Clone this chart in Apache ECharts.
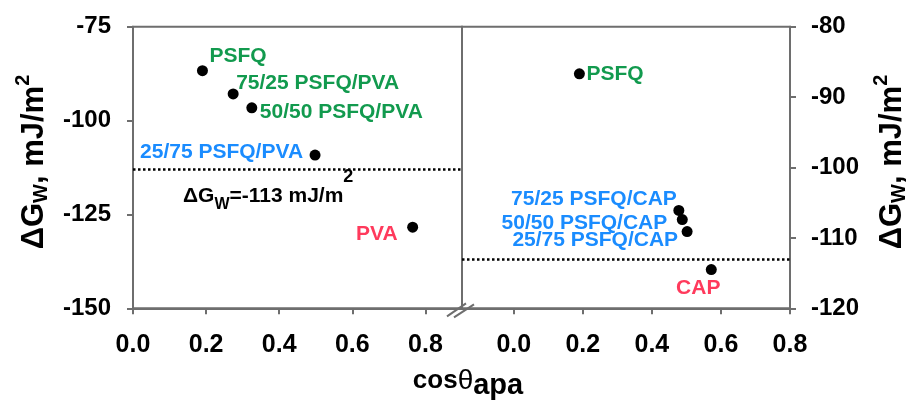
<!DOCTYPE html>
<html>
<head>
<meta charset="utf-8">
<script src="https://cdn.jsdelivr.net/npm/echarts@6/dist/echarts.min.js"></script>
<style>
  html, body { margin: 0; padding: 0; background: #fff; }
  #chart { width: 915px; height: 404px; }
</style>
</head>
<body>
<div id="chart"></div>
<script>
// PSFQ blended with PVA (left panel)
const pvaNames = ['PSFQ', '75/25 PSFQ/PVA', '50/50 PSFQ/PVA', '25/75 PSFQ/PVA', 'PVA'];
const pvaCos = [0.19, 0.274, 0.325, 0.498, 0.765];
const pvaDG = [-86.7, -92.9, -96.6, -109.2, -128.4];

// PSFQ blended with CAP (right panel)
const capNames = ['PSFQ', '75/25 PSFQ/CAP', '50/50 PSFQ/CAP', '25/75 PSFQ/CAP', 'CAP'];
const capCos = [0.19, 0.478, 0.488, 0.502, 0.572];
const capDG = [-86.7, -106.1, -107.4, -109.1, -114.5];

// hydrophilic / hydrophobic boundary
const thresholdDG = -113;

// tick labels
const cosTicks = [0.0, 0.2, 0.4, 0.6, 0.8];
const pvaTicks = [-75, -100, -125, -150];
const capTicks = [-80, -90, -100, -110, -120];

// label styling (kept apart from the values)
const GREEN = '#129a4e', BLUE = '#1a8cff', RED = '#ff3a5c';
const pvaColors = [GREEN, GREEN, GREEN, BLUE, RED];
const capColors = [GREEN, BLUE, BLUE, BLUE, RED];
// [align, dx, dy] of each label anchor relative to its dot
const pvaPlace = [['left', 7, -14], ['left', 3, -11], ['left', 8, 4], ['right', -12, -3], ['right', -15, 7]];
const capPlace = [['left', 7, 0], ['right', -2, -11], ['right', -15, 3.5], ['right', -9, 8.5], ['center', -13, 18.5]];

const FONT = '"Liberation Sans", Arial, Helvetica, sans-serif';
const AXIS = '#6e6e6e';
const DOT = 11;

function points(names, xs, ys, colors, place) {
  return names.map((n, i) => ({
    name: n,
    value: [xs[i], ys[i]],
    label: {
      show: true,
      formatter: '{b}',
      position: [place[i][1] + DOT / 2, place[i][2] + DOT / 2],
      align: place[i][0],
      verticalAlign: 'middle',
      color: colors[i],
      fontSize: 21,
      fontWeight: 'bold',
      fontFamily: FONT
    }
  }));
}

const axisCommon = {
  axisLine: { show: true, onZero: false, lineStyle: { color: AXIS, width: 2 } },
  axisTick: { show: true, length: 6, lineStyle: { color: AXIS, width: 2 } },
  splitLine: { show: false },
  axisLabel: { color: '#000', fontWeight: 'bold', fontFamily: FONT, fontSize: 24 }
};

const boundary = {
  silent: true,
  symbol: ['none', 'none'],
  label: { show: false },
  lineStyle: { color: '#000', type: [2.5, 2.5], width: 2.5, opacity: 1 },
  data: [{ yAxis: thresholdDG }]
};

const chart = echarts.init(document.getElementById('chart'));

chart.setOption({
  animation: false,
  backgroundColor: '#fff',
  grid: [
    { left: 133, right: 453, top: 26.7, bottom: 95.7, show: true, borderColor: AXIS, borderWidth: 2, backgroundColor: 'transparent' },
    { left: 462, right: 125, top: 26.7, bottom: 95.7, show: true, borderColor: AXIS, borderWidth: 2, backgroundColor: 'transparent' }
  ],
  xAxis: [
    Object.assign({}, axisCommon, {
      gridIndex: 0, type: 'value', min: 0, max: 0.9,
      axisTick: Object.assign({}, axisCommon.axisTick, { customValues: cosTicks }),
      axisLabel: Object.assign({}, axisCommon.axisLabel, { fontSize: 25, margin: 24, customValues: cosTicks, formatter: v => v.toFixed(1) })
    }),
    Object.assign({}, axisCommon, {
      gridIndex: 1, type: 'value', min: -0.15, max: 0.8,
      axisTick: Object.assign({}, axisCommon.axisTick, { customValues: cosTicks }),
      axisLabel: Object.assign({}, axisCommon.axisLabel, { fontSize: 25, margin: 24, customValues: cosTicks, formatter: v => v.toFixed(1) })
    })
  ],
  yAxis: [
    Object.assign({}, axisCommon, {
      gridIndex: 0, type: 'value', position: 'left', min: -150, max: -75, interval: 25,
      axisTick: Object.assign({}, axisCommon.axisTick, { customValues: pvaTicks }),
      axisLabel: Object.assign({}, axisCommon.axisLabel, { margin: 22, customValues: pvaTicks })
    }),
    Object.assign({}, axisCommon, {
      gridIndex: 1, type: 'value', position: 'right', min: -120, max: -80, interval: 10,
      axisTick: Object.assign({}, axisCommon.axisTick, { customValues: capTicks }),
      axisLabel: Object.assign({}, axisCommon.axisLabel, { margin: 21, customValues: capTicks })
    })
  ],
  series: [
    {
      type: 'scatter', xAxisIndex: 0, yAxisIndex: 0, symbolSize: DOT,
      itemStyle: { color: '#000', opacity: 1 },
      data: points(pvaNames, pvaCos, pvaDG, pvaColors, pvaPlace),
      markLine: boundary
    },
    {
      type: 'scatter', xAxisIndex: 1, yAxisIndex: 1, symbolSize: DOT,
      itemStyle: { color: '#000', opacity: 1 },
      data: points(capNames, capCos, capDG, capColors, capPlace),
      markLine: boundary
    }
  ]
});

// axis titles, boundary note and the axis-break marks
const corner = chart.convertToPixel({ gridIndex: 0 }, [0.9, -150]);
const titleRich = {
  m: { fontSize: 31, fontWeight: 'bold', fontFamily: FONT, color: '#000' },
  s: { fontSize: 20, fontWeight: 'bold', fontFamily: FONT, color: '#000', padding: [14, 0, 0, 0] },
  p: { fontSize: 20, fontWeight: 'bold', fontFamily: FONT, color: '#000', padding: [0, 0, 22, 0] }
};
const yTitle = '{m|ΔG}{s|W}{m|, mJ/m}{p|2}';

function yTitleAt(x) {
  return {
    type: 'text', x: x, y: 162, rotation: Math.PI / 2,
    style: { text: yTitle, rich: titleRich, align: 'center', verticalAlign: 'middle' }
  };
}

chart.setOption({
  graphic: [
    yTitleAt(34),
    yTitleAt(892),
    {
      type: 'text', x: 468, y: 381,
      style: {
        text: '{c|cos}{t|θ}{a|apa}',
        align: 'center', verticalAlign: 'middle',
        rich: {
          c: { fontSize: 26, fontWeight: 'bold', fontFamily: FONT, color: '#000' },
          t: { fontSize: 28, fontFamily: FONT, color: '#000' },
          a: { fontSize: 29, fontWeight: 'bold', fontFamily: FONT, color: '#000', padding: [10, 0, 0, 0] }
        }
      }
    },
    {
      type: 'text', x: 183, y: 196,
      style: {
        text: '{m|ΔG}{s|W}{m|=-113 mJ/m}{p|2}',
        align: 'left', verticalAlign: 'middle',
        rich: {
          m: { fontSize: 21, fontWeight: 'bold', fontFamily: FONT, color: '#000' },
          s: { fontSize: 16, fontWeight: 'bold', fontFamily: FONT, color: '#000', padding: [18, 0, 0, 0] },
          p: { fontSize: 18, fontWeight: 'bold', fontFamily: FONT, color: '#000', padding: [0, 0, 38, 0] }
        }
      }
    },
    {
      type: 'line', silent: true,
      shape: { x1: corner[0] - 15, y1: corner[1] + 8, x2: corner[0] + 4, y2: corner[1] - 5 },
      style: { stroke: AXIS, lineWidth: 2 }
    },
    {
      type: 'line', silent: true,
      shape: { x1: corner[0] - 8, y1: corner[1] + 9, x2: corner[0] + 12, y2: corner[1] - 4 },
      style: { stroke: AXIS, lineWidth: 2 }
    }
  ]
});
</script>
</body>
</html>
